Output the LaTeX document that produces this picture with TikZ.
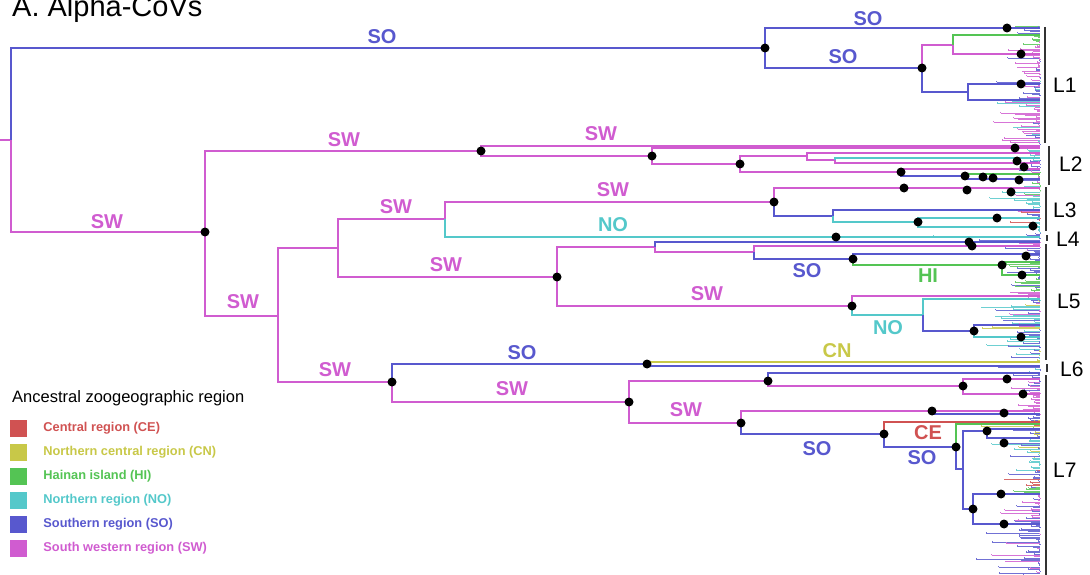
\documentclass[tikz,border=0pt]{standalone}
\usepackage{fontspec}
\setmainfont{Liberation Sans}
\usetikzlibrary{positioning}
\definecolor{swc}{RGB}{208,92,208}
\definecolor{soc}{RGB}{88,88,206}
\definecolor{noc}{RGB}{84,200,202}
\definecolor{hic}{RGB}{84,196,84}
\definecolor{cnc}{RGB}{200,200,72}
\definecolor{cec}{RGB}{208,82,82}
\tikzset{branch/.style={
            line width=1.4pt},
        tipline/.style={
            line width=0.9pt},
        SW/.style={draw=swc},
        SO/.style={draw=soc},
        NO/.style={draw=noc},
        HI/.style={draw=hic},
        CN/.style={draw=cnc},
        CE/.style={draw=cec},
        dot/.style={
            circle,
            fill=black,
            inner sep=0pt,
            minimum size=9pt},
        reg/.style={
            inner sep=0pt,
            font=\bfseries\fontsize{20}{20}\selectfont},
        clade/.style={
            anchor=west,
            inner sep=0pt,
            font=\fontsize{21}{21}\selectfont},
        bracket/.style={
            line width=1.5pt,
            black!80},
        key/.style={
            inner sep=0pt,
            minimum size=17pt},
        keytext/.style={
            inner sep=0pt,
            font=\bfseries\fontsize{12.8}{12.8}\selectfont}
    }

% ladder of short tips ending on the tip line x=1040
% #1 leftmost start, #2/#3 y range, #4 steps, #5 colours to pick from
\newcommand\tipfan[5]{%
    \xdef\fn{0}%
    \foreach \c in {#5}{\xdef\fn{\the\numexpr\fn+1\relax}}%
    \foreach \k in {0,...,#4}{%
        \pgfmathsetmacro\fy{#2+\k*(#3-#2)/#4}%
        \pgfmathsetmacro\fp{\fy-(#3-#2)/#4}%
        \pgfmathsetmacro\fx{1040-(1040-#1)*rnd*rnd}%
        \pgfmathrandominteger{\ri}{1}{\fn}%
        \foreach \c [count=\j] in {#5}{\ifnum\j=\ri\relax\xdef\fcol{\c}\fi}%
        \draw[tipline,draw=\fcol!85!white] (\fx,\fy) -- (1040,\fy);
        \ifnum\k>0 \draw[tipline,draw=\fcol!85!white] (\fx,\fy) -- (\fx,\fp);\fi
    }%
}

\begin{document}
\begin{tikzpicture}[x=1pt,y=-1pt]
        \useasboundingbox (0,0) rectangle (1090,575);
        \pgfmathsetseed{11}

        % dense tips
        \tipfan{1000}{26}{33}{5}{soc,soc,hic}
        \tipfan{985}{34}{44}{8}{hic,hic,hic,swc}
        \tipfan{990}{45}{80}{26}{swc,swc,swc,swc,soc}
        \tipfan{995}{81}{100}{14}{soc,soc,soc,swc,noc}
        \tipfan{972}{101}{144}{32}{swc,swc,swc,swc,soc,noc}
        \tipfan{1000}{146}{160}{10}{swc,swc,noc}
        \tipfan{1000}{160}{172}{8}{swc,soc}
        \tipfan{995}{172}{185}{9}{soc,hic,swc}
        \tipfan{985}{186}{198}{9}{noc,swc,hic}
        \tipfan{1000}{198}{209}{8}{noc}
        \tipfan{1005}{210}{222}{9}{cec,cec,soc,swc}
        \tipfan{1005}{222}{232}{7}{noc}
        \tipfan{880}{233}{240}{6}{noc,noc,soc}
        \tipfan{990}{241}{250}{7}{swc,soc}
        \tipfan{1000}{250}{262}{9}{soc}
        \tipfan{995}{262}{292}{22}{hic,hic,hic,soc}
        \tipfan{980}{292}{300}{6}{swc,soc,swc}
        \tipfan{930}{300}{326}{20}{noc,cnc,soc,noc,swc}
        \tipfan{975}{326}{360}{25}{soc,soc,noc,cnc}
        \tipfan{985}{366}{372}{4}{soc,noc}
        \tipfan{1000}{373}{381}{6}{soc}
        \tipfan{1000}{381}{395}{10}{swc,soc}
        \tipfan{1005}{395}{408}{9}{swc}
        \tipfan{990}{409}{420}{8}{swc,soc}
        \tipfan{960}{420}{428}{6}{cec,cec,hic,cnc}
        \tipfan{985}{428}{458}{22}{soc,soc,cnc,noc}
        \tipfan{1005}{458}{470}{8}{noc}
        \tipfan{990}{470}{487}{12}{soc,cec,soc}
        \tipfan{1000}{487}{494}{5}{hic}
        \tipfan{985}{494}{520}{19}{swc,swc,soc}
        \tipfan{975}{520}{575}{42}{soc,soc,swc}

        % internal nodes
        \coordinate (root) at (11,140);
        \coordinate (nSO) at (765,48);
        \coordinate (nSW) at (205,232);
        \coordinate (n1b) at (922,68);
        \coordinate (n1c) at (953,45);
        \coordinate (n1d) at (968,92);
        \coordinate (n2) at (481,151);
        \coordinate (n2b) at (652,156);
        \coordinate (n2c) at (740,164);
        \coordinate (n2d) at (807,156);
        \coordinate (n2e) at (835,160);
        \coordinate (n2f) at (901,172);
        \coordinate (n2g) at (965,176);
        \coordinate (nA) at (278,316);
        \coordinate (nB) at (338,248);
        \coordinate (nC) at (445,219);
        \coordinate (n3) at (774,202);
        \coordinate (n3b) at (833,216);
        \coordinate (n3c) at (918,222);
        \coordinate (n5) at (557,277);
        \coordinate (n5a) at (655,247);
        \coordinate (n5b) at (754,252);
        \coordinate (n5c) at (853,259);
        \coordinate (n5d) at (1002,265);
        \coordinate (n5e) at (852,306);
        \coordinate (n5f) at (923,315);
        \coordinate (n5g) at (974,331);
        \coordinate (nD) at (392,382);
        \coordinate (n6) at (647,364);
        \coordinate (n7) at (629,402);
        \coordinate (n7a) at (768,381);
        \coordinate (n7b) at (963,386);
        \coordinate (n7c) at (741,423);
        \coordinate (n7d) at (932,411);
        \coordinate (n7e) at (884,434);
        \coordinate (n7f) at (956,447);
        \coordinate (n7g) at (963,469);
        \coordinate (n7h) at (987,431);
        \coordinate (n7i) at (973,509);

        % backbone
        \draw[branch,SW] (0,140) -- (root);
        \draw[branch,SO] (root) |- (nSO);
        \draw[branch,SW] (root) |- (nSW);
        \draw[branch,SO] (nSO) |- (1040,28);
        \draw[branch,SO] (nSO) |- (n1b);
        \draw[branch,SW] (n1b) |- (n1c);
        \draw[branch,HI] (n1c) |- (1040,35);
        \draw[branch,SW] (n1c) |- (1040,54);
        \draw[branch,SO] (n1b) |- (n1d);
        \draw[branch,SO] (n1d) |- (1040,84);
        \draw[branch,SO] (n1d) |- (1040,100);

        \draw[branch,SW] (nSW) |- (n2);
        \draw[branch,SW] (n2) |- (1040,146);
        \draw[branch,SW] (n2) |- (n2b);
        \draw[branch,SW] (n2b) |- (1040,148);
        \draw[branch,SW] (n2b) |- (n2c);
        \draw[branch,SW] (n2c) |- (n2d);
        \draw[branch,SW] (n2d) |- (1040,153);
        \draw[branch,SW] (n2d) |- (n2e);
        \draw[branch,NO] (n2e) |- (1040,158);
        \draw[branch,SW] (n2e) |- (1040,163);
        \draw[branch,SW] (n2c) |- (n2f);
        \draw[branch,SW] (n2f) |- (1040,169);
        \draw[branch,SO] (n2f) |- (n2g);
        \draw[branch,HI] (n2g) |- (1040,174);
        \draw[branch,SO] (n2g) |- (1040,179);

        \draw[branch,SW] (nSW) |- (nA);
        \draw[branch,SW] (nA) |- (nB);
        \draw[branch,SW] (nB) |- (nC);
        \draw[branch,SW] (nC) |- (n3);
        \draw[branch,NO] (nC) |- (1040,237);
        \draw[branch,SW] (n3) |- (1040,188);
        \draw[branch,SO] (n3) |- (n3b);
        \draw[branch,SO] (n3b) |- (1040,210);
        \draw[branch,NO] (n3b) |- (n3c);
        \draw[branch,NO] (n3c) |- (1040,218);
        \draw[branch,NO] (n3c) |- (1040,227);

        \draw[branch,SW] (nB) |- (n5);
        \draw[branch,SW] (n5) |- (n5a);
        \draw[branch,SO] (n5a) |- (1040,242);
        \draw[branch,SW] (n5a) |- (n5b);
        \draw[branch,SW] (n5b) |- (1040,246);
        \draw[branch,SO] (n5b) |- (n5c);
        \draw[branch,SO] (n5c) |- (1040,254);
        \draw[branch,HI] (n5c) |- (n5d);
        \draw[branch,HI] (n5d) |- (1040,262);
        \draw[branch,HI] (n5d) |- (1040,275);
        \draw[branch,SW] (n5) |- (n5e);
        \draw[branch,SW] (n5e) |- (1040,296);
        \draw[branch,NO] (n5e) |- (n5f);
        \draw[branch,NO] (n5f) |- (1040,299);
        \draw[branch,SO] (n5f) |- (n5g);
        \draw[branch,SO] (n5g) |- (1040,325);
        \draw[branch,NO] (n5g) |- (1040,337);

        \draw[branch,SW] (nA) |- (nD);
        \draw[branch,SO] (nD) |- (n6);
        \draw[branch,CN] (n6) |- (1040,362);
        \draw[branch,SO] (n6) |- (1040,366);
        \draw[branch,SW] (nD) |- (n7);
        \draw[branch,SW] (n7) |- (n7a);
        \draw[branch,SO] (n7a) |- (1040,373);
        \draw[branch,SW] (n7a) |- (n7b);
        \draw[branch,SW] (n7b) |- (1040,379);
        \draw[branch,SW] (n7b) |- (1040,394);
        \draw[branch,SW] (n7) |- (n7c);
        \draw[branch,SW] (n7c) |- (1040,411);
        \draw[branch,SO] (n7d) |- (1040,414);
        \draw[branch,SO] (n7c) |- (n7e);
        \draw[branch,CE] (n7e) |- (1040,422);
        \draw[branch,SO] (n7e) |- (n7f);
        \draw[branch,HI] (n7f) |- (1040,424);
        \draw[branch,SO] (n7f) |- (n7g);
        \draw[branch,SO] (n7g) |- (n7h);
        \draw[branch,SO] (n7h) |- (1040,429);
        \draw[branch,SO] (n7h) |- (1040,438);
        \draw[branch,SO] (n7g) |- (n7i);
        \draw[branch,SO] (n7i) |- (1040,494);
        \draw[branch,SO] (n7i) |- (1040,524);

        % supported nodes
        \foreach \p [count=\i] in {(nSO),(nSW),(1007,28),(n1b),(1021,54),(1021,84),
            (n2),(n2b),(n2c),(1015,148),(1017,161),(1024,167),(n2f),(n2g),(983,177),
            (993,178),(1019,180),(904,188),(967,190),(1011,192),(n3),(n3c),(997,218),
            (1033,226),(836,237),(969,242),(972,246),(n5),(n5c),(1026,256),(n5d),
            (1022,275),(n5e),(n5g),(1021,337),(nD),(n6),(n7),(n7a),(1007,379),(n7b),
            (1023,394),(n7c),(n7d),(1004,413),(n7e),(n7f),(n7h),(1004,443),(n7i),
            (1001,494),(1004,524)}
            \node[dot] (dot\i) at \p {};

        % region labels on branches
        \node[reg,text=soc] (rso1) at (382,37) {SO};
        \node[reg,text=soc] (rso2) at (868,19) {SO};
        \node[reg,text=soc] (rso3) at (843,57) {SO};
        \node[reg,text=swc] (rsw1) at (107,222) {SW};
        \node[reg,text=swc] (rsw2) at (344,140) {SW};
        \node[reg,text=swc] (rsw3) at (601,134) {SW};
        \node[reg,text=swc] (rsw4) at (243,302) {SW};
        \node[reg,text=swc] (rsw5) at (396,207) {SW};
        \node[reg,text=swc] (rsw6) at (613,190) {SW};
        \node[reg,text=noc] (rno1) at (613,225) {NO};
        \node[reg,text=swc] (rsw7) at (446,265) {SW};
        \node[reg,text=soc] (rso4) at (807,271) {SO};
        \node[reg,text=hic] (rhi1) at (928,276) {HI};
        \node[reg,text=swc] (rsw8) at (707,294) {SW};
        \node[reg,text=noc] (rno2) at (888,328) {NO};
        \node[reg,text=cnc] (rcn1) at (837,351) {CN};
        \node[reg,text=soc] (rso5) at (522,353) {SO};
        \node[reg,text=swc] (rsw9) at (335,370) {SW};
        \node[reg,text=swc] (rsw10) at (512,389) {SW};
        \node[reg,text=swc] (rsw11) at (686,410) {SW};
        \node[reg,text=cec] (rce1) at (928,433) {CE};
        \node[reg,text=soc] (rso6) at (817,449) {SO};
        \node[reg,text=soc] (rso7) at (922,458) {SO};

        % lineages
        \draw[bracket] (1045,27) -- (1045,143);
        \draw[bracket] (1049,146) -- (1049,185);
        \draw[bracket] (1046,187) -- (1046,231);
        \draw[bracket] (1047,235) -- (1047,241);
        \draw[bracket] (1046,244) -- (1046,360);
        \draw[bracket] (1047,364) -- (1047,372);
        \draw[bracket] (1046,375) -- (1046,575);
        \node[clade] (L1) at (1053,85) {L1};
        \node[clade] (L2) at (1059,164) {L2};
        \node[clade] (L3) at (1053,210) {L3};
        \node[clade] (L4) at (1056,239) {L4};
        \node[clade] (L5) at (1057,301) {L5};
        \node[clade] (L6) at (1060,369) {L6};
        \node[clade] (L7) at (1053,470) {L7};

        \node[anchor=base west,inner sep=0pt,font=\fontsize{29}{29}\selectfont] (title) at (12,17) {A. Alpha-CoVs};

        % legend
        \node[anchor=base west,inner sep=0pt,font=\fontsize{16.5}{16.5}\selectfont] (legend) at (12,402) {Ancestral zoogeographic region};
        \foreach \c/\t [count=\i] in {cec/Central region (CE),cnc/Northern central region (CN),
            hic/Hainan island (HI),noc/Northern region (NO),soc/Southern region (SO),
            swc/South western region (SW)}{
            \node[key,fill=\c] (key\i) at (18.5,{404+24*\i}) {};
            \node[keytext,text=\c,right=16pt of key\i] (txt\i) {\t};
        }

    \end{tikzpicture}
\end{document}
